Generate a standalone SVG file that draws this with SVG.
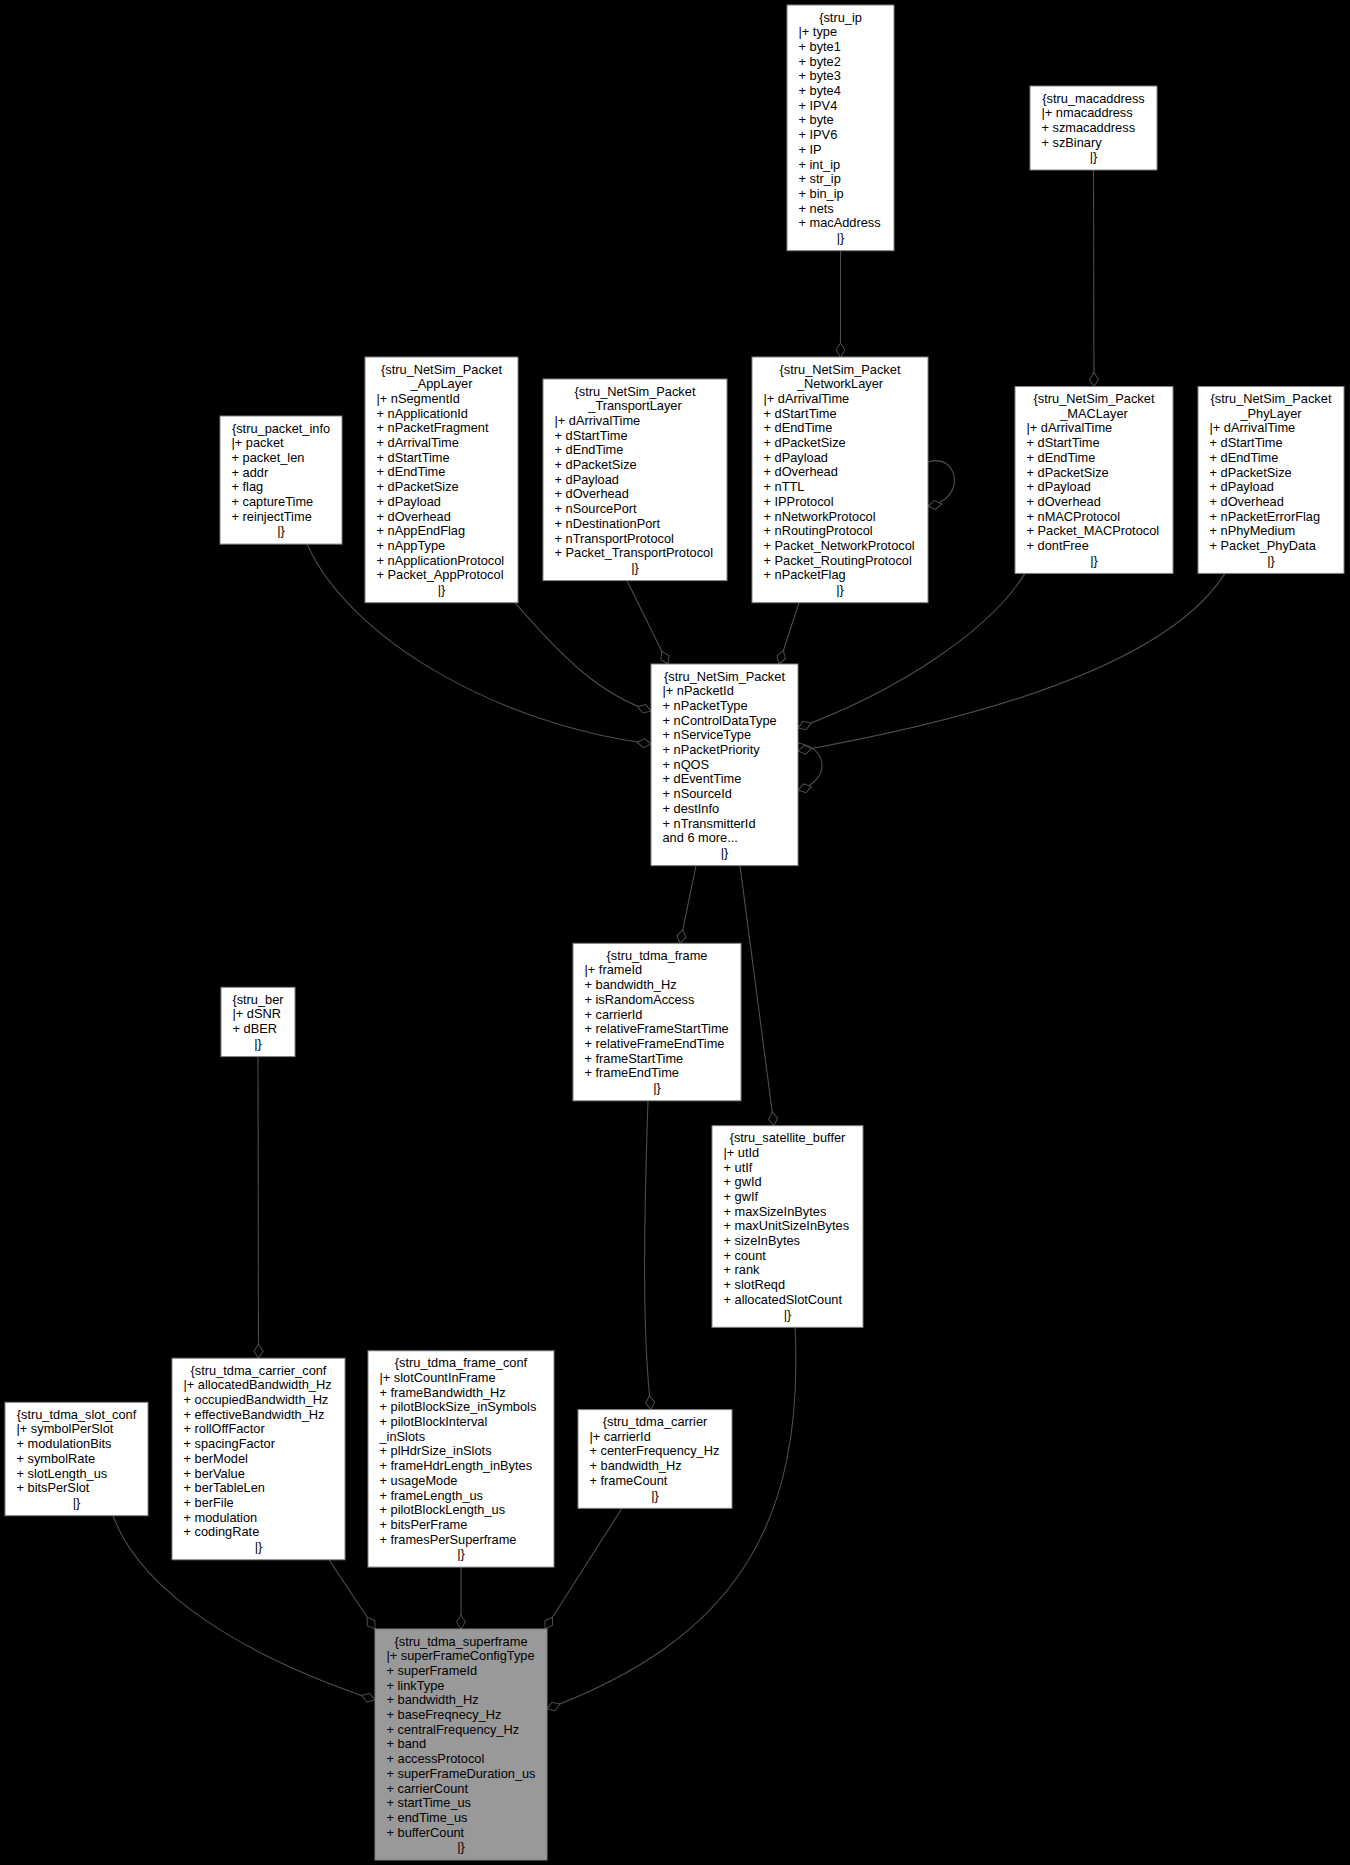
<svg xmlns="http://www.w3.org/2000/svg" width="1350" height="1865" viewBox="0 0 1350 1865">
<defs>
<style>
.n rect{fill:#ffffff;stroke:#808080;stroke-width:1}
.root rect{fill:#999999}
text{font-family:"Liberation Sans",Arial,sans-serif;font-size:12.8px;fill:#000000}
.c{text-anchor:middle}
.e path{fill:none;stroke:#4d4d4d;stroke-width:1.1;marker-end:url(#od)}
</style>
<marker id="od" markerUnits="userSpaceOnUse" viewBox="0 -6 16 12" markerWidth="16" markerHeight="12" refX="15" refY="0" orient="auto">
<path d="M1,0 L8,-4.5 L15,0 L8,4.5 Z" fill="#000000" stroke="#4d4d4d" stroke-width="1"/>
</marker>
</defs>
<rect x="0" y="0" width="1350" height="1865" fill="#000000"/>

<g id="connectors" class="e">
<path d="M840.5,250.7 L840.5,357"/>
<path d="M1093.5,170 L1094,386.5"/>
<path d="M928,462 C958,452 968,500 928,506"/>
<path d="M307,544 C350,640 500,725 651,744"/>
<path d="M515,602.7 C560,655 600,695 651,711"/>
<path d="M627,580.6 L668,664"/>
<path d="M799,602.7 L779,664"/>
<path d="M1025,573.4 C990,630 900,690 798,728"/>
<path d="M1225,573.4 C1170,660 1000,715 798,751"/>
<path d="M798,743 C830,748 830,782 798,790"/>
<path d="M696,865.6 L680,943.3"/>
<path d="M740,865.6 L774,1125.7"/>
<path d="M648,1100.8 C643,1250 643,1340 651,1409.6"/>
<path d="M258,1056.6 L258.5,1358.2"/>
<path d="M113,1515.7 C140,1590 240,1655 375,1700"/>
<path d="M329,1559.8 L375,1629"/>
<path d="M461,1567.1 L461,1629"/>
<path d="M622,1508.3 L545,1629"/>
<path d="M795,1327.3 C805,1530 730,1640 547,1709"/>
</g>

<g id="stru_ip" class="n" transform="translate(787,5)">
<rect x="0" y="0" width="107" height="245.7"/>
<text class="c" x="53.5" y="16.5">{stru_ip</text>
<text x="11.5" y="31.2">|+ type</text>
<text x="11.5" y="45.9">+ byte1</text>
<text x="11.5" y="60.6">+ byte2</text>
<text x="11.5" y="75.3">+ byte3</text>
<text x="11.5" y="90">+ byte4</text>
<text x="11.5" y="104.7">+ IPV4</text>
<text x="11.5" y="119.4">+ byte</text>
<text x="11.5" y="134.1">+ IPV6</text>
<text x="11.5" y="148.8">+ IP</text>
<text x="11.5" y="163.5">+ int_ip</text>
<text x="11.5" y="178.2">+ str_ip</text>
<text x="11.5" y="192.9">+ bin_ip</text>
<text x="11.5" y="207.6">+ nets</text>
<text x="11.5" y="222.3">+ macAddress</text>
<text class="c" x="53.5" y="237">|}</text>
</g>

<g id="stru_macaddress" class="n" transform="translate(1030,86)">
<rect x="0" y="0" width="127" height="84"/>
<text class="c" x="63.5" y="16.5">{stru_macaddress</text>
<text x="11.5" y="31.2">|+ nmacaddress</text>
<text x="11.5" y="45.9">+ szmacaddress</text>
<text x="11.5" y="60.6">+ szBinary</text>
<text class="c" x="63.5" y="75.3">|}</text>
</g>

<g id="stru_packet_info" class="n" transform="translate(220,416)">
<rect x="0" y="0" width="122" height="128.1"/>
<text class="c" x="61" y="16.5">{stru_packet_info</text>
<text x="11.5" y="31.2">|+ packet</text>
<text x="11.5" y="45.9">+ packet_len</text>
<text x="11.5" y="60.6">+ addr</text>
<text x="11.5" y="75.3">+ flag</text>
<text x="11.5" y="90">+ captureTime</text>
<text x="11.5" y="104.7">+ reinjectTime</text>
<text class="c" x="61" y="119.4">|}</text>
</g>

<g id="stru_NetSim_Packet_AppLayer" class="n" transform="translate(365,357)">
<rect x="0" y="0" width="153" height="245.7"/>
<text class="c" x="76.5" y="16.5">{stru_NetSim_Packet</text>
<text class="c" x="76.5" y="31.2">_AppLayer</text>
<text x="11.5" y="45.9">|+ nSegmentId</text>
<text x="11.5" y="60.6">+ nApplicationId</text>
<text x="11.5" y="75.3">+ nPacketFragment</text>
<text x="11.5" y="90">+ dArrivalTime</text>
<text x="11.5" y="104.7">+ dStartTime</text>
<text x="11.5" y="119.4">+ dEndTime</text>
<text x="11.5" y="134.1">+ dPacketSize</text>
<text x="11.5" y="148.8">+ dPayload</text>
<text x="11.5" y="163.5">+ dOverhead</text>
<text x="11.5" y="178.2">+ nAppEndFlag</text>
<text x="11.5" y="192.9">+ nAppType</text>
<text x="11.5" y="207.6">+ nApplicationProtocol</text>
<text x="11.5" y="222.3">+ Packet_AppProtocol</text>
<text class="c" x="76.5" y="237">|}</text>
</g>

<g id="stru_NetSim_Packet_TransportLayer" class="n" transform="translate(543,379)">
<rect x="0" y="0" width="184" height="201.6"/>
<text class="c" x="92" y="16.5">{stru_NetSim_Packet</text>
<text class="c" x="92" y="31.2">_TransportLayer</text>
<text x="11.5" y="45.9">|+ dArrivalTime</text>
<text x="11.5" y="60.6">+ dStartTime</text>
<text x="11.5" y="75.3">+ dEndTime</text>
<text x="11.5" y="90">+ dPacketSize</text>
<text x="11.5" y="104.7">+ dPayload</text>
<text x="11.5" y="119.4">+ dOverhead</text>
<text x="11.5" y="134.1">+ nSourcePort</text>
<text x="11.5" y="148.8">+ nDestinationPort</text>
<text x="11.5" y="163.5">+ nTransportProtocol</text>
<text x="11.5" y="178.2">+ Packet_TransportProtocol</text>
<text class="c" x="92" y="192.9">|}</text>
</g>

<g id="stru_NetSim_Packet_NetworkLayer" class="n" transform="translate(752,357)">
<rect x="0" y="0" width="176" height="245.7"/>
<text class="c" x="88" y="16.5">{stru_NetSim_Packet</text>
<text class="c" x="88" y="31.2">_NetworkLayer</text>
<text x="11.5" y="45.9">|+ dArrivalTime</text>
<text x="11.5" y="60.6">+ dStartTime</text>
<text x="11.5" y="75.3">+ dEndTime</text>
<text x="11.5" y="90">+ dPacketSize</text>
<text x="11.5" y="104.7">+ dPayload</text>
<text x="11.5" y="119.4">+ dOverhead</text>
<text x="11.5" y="134.1">+ nTTL</text>
<text x="11.5" y="148.8">+ IPProtocol</text>
<text x="11.5" y="163.5">+ nNetworkProtocol</text>
<text x="11.5" y="178.2">+ nRoutingProtocol</text>
<text x="11.5" y="192.9">+ Packet_NetworkProtocol</text>
<text x="11.5" y="207.6">+ Packet_RoutingProtocol</text>
<text x="11.5" y="222.3">+ nPacketFlag</text>
<text class="c" x="88" y="237">|}</text>
</g>

<g id="stru_NetSim_Packet_MACLayer" class="n" transform="translate(1015,386.5)">
<rect x="0" y="0" width="158" height="186.9"/>
<text class="c" x="79" y="16.5">{stru_NetSim_Packet</text>
<text class="c" x="79" y="31.2">_MACLayer</text>
<text x="11.5" y="45.9">|+ dArrivalTime</text>
<text x="11.5" y="60.6">+ dStartTime</text>
<text x="11.5" y="75.3">+ dEndTime</text>
<text x="11.5" y="90">+ dPacketSize</text>
<text x="11.5" y="104.7">+ dPayload</text>
<text x="11.5" y="119.4">+ dOverhead</text>
<text x="11.5" y="134.1">+ nMACProtocol</text>
<text x="11.5" y="148.8">+ Packet_MACProtocol</text>
<text x="11.5" y="163.5">+ dontFree</text>
<text class="c" x="79" y="178.2">|}</text>
</g>

<g id="stru_NetSim_Packet_PhyLayer" class="n" transform="translate(1198,386.5)">
<rect x="0" y="0" width="146" height="186.9"/>
<text class="c" x="73" y="16.5">{stru_NetSim_Packet</text>
<text class="c" x="73" y="31.2">_PhyLayer</text>
<text x="11.5" y="45.9">|+ dArrivalTime</text>
<text x="11.5" y="60.6">+ dStartTime</text>
<text x="11.5" y="75.3">+ dEndTime</text>
<text x="11.5" y="90">+ dPacketSize</text>
<text x="11.5" y="104.7">+ dPayload</text>
<text x="11.5" y="119.4">+ dOverhead</text>
<text x="11.5" y="134.1">+ nPacketErrorFlag</text>
<text x="11.5" y="148.8">+ nPhyMedium</text>
<text x="11.5" y="163.5">+ Packet_PhyData</text>
<text class="c" x="73" y="178.2">|}</text>
</g>

<g id="stru_NetSim_Packet" class="n" transform="translate(651,664)">
<rect x="0" y="0" width="147" height="201.6"/>
<text class="c" x="73.5" y="16.5">{stru_NetSim_Packet</text>
<text x="11.5" y="31.2">|+ nPacketId</text>
<text x="11.5" y="45.9">+ nPacketType</text>
<text x="11.5" y="60.6">+ nControlDataType</text>
<text x="11.5" y="75.3">+ nServiceType</text>
<text x="11.5" y="90">+ nPacketPriority</text>
<text x="11.5" y="104.7">+ nQOS</text>
<text x="11.5" y="119.4">+ dEventTime</text>
<text x="11.5" y="134.1">+ nSourceId</text>
<text x="11.5" y="148.8">+ destInfo</text>
<text x="11.5" y="163.5">+ nTransmitterId</text>
<text x="11.5" y="178.2">and 6 more...</text>
<text class="c" x="73.5" y="192.9">|}</text>
</g>

<g id="stru_ber" class="n" transform="translate(221,987.3)">
<rect x="0" y="0" width="74" height="69.3"/>
<text class="c" x="37" y="16.5">{stru_ber</text>
<text x="11.5" y="31.2">|+ dSNR</text>
<text x="11.5" y="45.9">+ dBER</text>
<text class="c" x="37" y="60.6">|}</text>
</g>

<g id="stru_tdma_frame" class="n" transform="translate(573,943.3)">
<rect x="0" y="0" width="168" height="157.5"/>
<text class="c" x="84" y="16.5">{stru_tdma_frame</text>
<text x="11.5" y="31.2">|+ frameId</text>
<text x="11.5" y="45.9">+ bandwidth_Hz</text>
<text x="11.5" y="60.6">+ isRandomAccess</text>
<text x="11.5" y="75.3">+ carrierId</text>
<text x="11.5" y="90">+ relativeFrameStartTime</text>
<text x="11.5" y="104.7">+ relativeFrameEndTime</text>
<text x="11.5" y="119.4">+ frameStartTime</text>
<text x="11.5" y="134.1">+ frameEndTime</text>
<text class="c" x="84" y="148.8">|}</text>
</g>

<g id="stru_satellite_buffer" class="n" transform="translate(712,1125.7)">
<rect x="0" y="0" width="151" height="201.6"/>
<text class="c" x="75.5" y="16.5">{stru_satellite_buffer</text>
<text x="11.5" y="31.2">|+ utId</text>
<text x="11.5" y="45.9">+ utIf</text>
<text x="11.5" y="60.6">+ gwId</text>
<text x="11.5" y="75.3">+ gwIf</text>
<text x="11.5" y="90">+ maxSizeInBytes</text>
<text x="11.5" y="104.7">+ maxUnitSizeInBytes</text>
<text x="11.5" y="119.4">+ sizeInBytes</text>
<text x="11.5" y="134.1">+ count</text>
<text x="11.5" y="148.8">+ rank</text>
<text x="11.5" y="163.5">+ slotReqd</text>
<text x="11.5" y="178.2">+ allocatedSlotCount</text>
<text class="c" x="75.5" y="192.9">|}</text>
</g>

<g id="stru_tdma_slot_conf" class="n" transform="translate(5,1402.3)">
<rect x="0" y="0" width="143" height="113.4"/>
<text class="c" x="71.5" y="16.5">{stru_tdma_slot_conf</text>
<text x="11.5" y="31.2">|+ symbolPerSlot</text>
<text x="11.5" y="45.9">+ modulationBits</text>
<text x="11.5" y="60.6">+ symbolRate</text>
<text x="11.5" y="75.3">+ slotLength_us</text>
<text x="11.5" y="90">+ bitsPerSlot</text>
<text class="c" x="71.5" y="104.7">|}</text>
</g>

<g id="stru_tdma_carrier_conf" class="n" transform="translate(172,1358.2)">
<rect x="0" y="0" width="173" height="201.6"/>
<text class="c" x="86.5" y="16.5">{stru_tdma_carrier_conf</text>
<text x="11.5" y="31.2">|+ allocatedBandwidth_Hz</text>
<text x="11.5" y="45.9">+ occupiedBandwidth_Hz</text>
<text x="11.5" y="60.6">+ effectiveBandwidth_Hz</text>
<text x="11.5" y="75.3">+ rollOffFactor</text>
<text x="11.5" y="90">+ spacingFactor</text>
<text x="11.5" y="104.7">+ berModel</text>
<text x="11.5" y="119.4">+ berValue</text>
<text x="11.5" y="134.1">+ berTableLen</text>
<text x="11.5" y="148.8">+ berFile</text>
<text x="11.5" y="163.5">+ modulation</text>
<text x="11.5" y="178.2">+ codingRate</text>
<text class="c" x="86.5" y="192.9">|}</text>
</g>

<g id="stru_tdma_frame_conf" class="n" transform="translate(368,1350.8)">
<rect x="0" y="0" width="186" height="216.3"/>
<text class="c" x="93" y="16.5">{stru_tdma_frame_conf</text>
<text x="11.5" y="31.2">|+ slotCountInFrame</text>
<text x="11.5" y="45.9">+ frameBandwidth_Hz</text>
<text x="11.5" y="60.6">+ pilotBlockSize_inSymbols</text>
<text x="11.5" y="75.3">+ pilotBlockInterval</text>
<text x="11.5" y="90">_inSlots</text>
<text x="11.5" y="104.7">+ plHdrSize_inSlots</text>
<text x="11.5" y="119.4">+ frameHdrLength_inBytes</text>
<text x="11.5" y="134.1">+ usageMode</text>
<text x="11.5" y="148.8">+ frameLength_us</text>
<text x="11.5" y="163.5">+ pilotBlockLength_us</text>
<text x="11.5" y="178.2">+ bitsPerFrame</text>
<text x="11.5" y="192.9">+ framesPerSuperframe</text>
<text class="c" x="93" y="207.6">|}</text>
</g>

<g id="stru_tdma_carrier" class="n" transform="translate(578,1409.6)">
<rect x="0" y="0" width="154" height="98.7"/>
<text class="c" x="77" y="16.5">{stru_tdma_carrier</text>
<text x="11.5" y="31.2">|+ carrierId</text>
<text x="11.5" y="45.9">+ centerFrequency_Hz</text>
<text x="11.5" y="60.6">+ bandwidth_Hz</text>
<text x="11.5" y="75.3">+ frameCount</text>
<text class="c" x="77" y="90">|}</text>
</g>

<g id="stru_tdma_superframe" class="n root" transform="translate(375,1629)">
<rect x="0" y="0" width="172" height="231"/>
<text class="c" x="86" y="16.5">{stru_tdma_superframe</text>
<text x="11.5" y="31.2">|+ superFrameConfigType</text>
<text x="11.5" y="45.9">+ superFrameId</text>
<text x="11.5" y="60.6">+ linkType</text>
<text x="11.5" y="75.3">+ bandwidth_Hz</text>
<text x="11.5" y="90">+ baseFreqnecy_Hz</text>
<text x="11.5" y="104.7">+ centralFrequency_Hz</text>
<text x="11.5" y="119.4">+ band</text>
<text x="11.5" y="134.1">+ accessProtocol</text>
<text x="11.5" y="148.8">+ superFrameDuration_us</text>
<text x="11.5" y="163.5">+ carrierCount</text>
<text x="11.5" y="178.2">+ startTime_us</text>
<text x="11.5" y="192.9">+ endTime_us</text>
<text x="11.5" y="207.6">+ bufferCount</text>
<text class="c" x="86" y="222.3">|}</text>
</g>
</svg>
